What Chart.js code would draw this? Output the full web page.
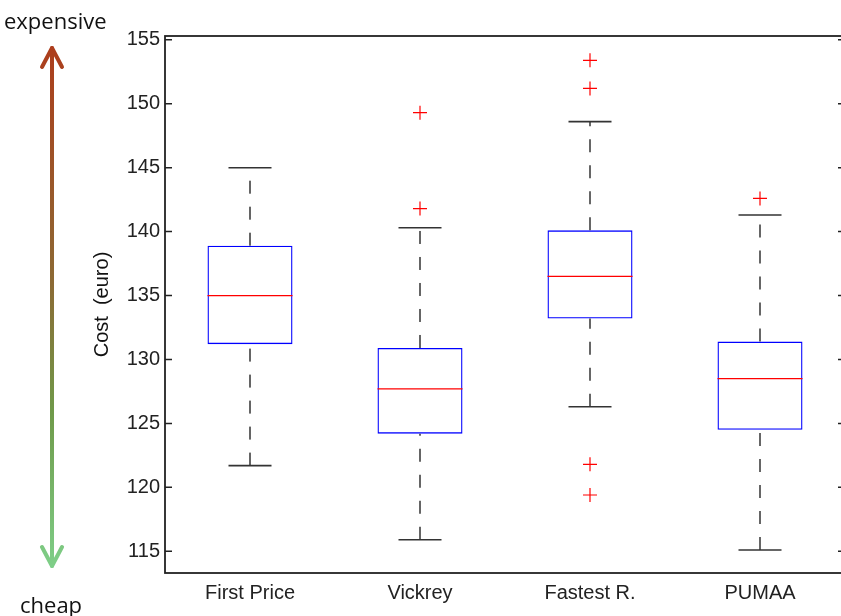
<!DOCTYPE html>
<html>
<head>
<meta charset="utf-8">
<script src="https://cdn.jsdelivr.net/npm/chart.js@4"></script>
<style>
  html, body { margin: 0; padding: 0; background: #fff; overflow: hidden; }
  #wrap { position: relative; width: 841px; height: 616px; overflow: hidden; }
  #chart { position: absolute; left: 0; top: 0; }
  .side { position: absolute; font-family: "Open Sans", "Noto Sans", sans-serif; font-size: 22px; line-height: 28px; color: #111; }
  #arrow { position: absolute; left: 30px; top: 36px; }
</style>
</head>
<body>
<div id="wrap">
  <canvas id="chart" width="846" height="616"></canvas>
  <div class="side" style="left:4px; top:6px;">expensive</div>
  <div class="side" style="left:20px; top:590px;">cheap</div>
  <svg id="arrow" width="44" height="550" viewBox="0 0 44 550">
    <defs>
      <linearGradient id="g" gradientUnits="userSpaceOnUse" x1="0" y1="10" x2="0" y2="535">
        <stop offset="0" stop-color="#ad3d1c"/>
        <stop offset="0.45" stop-color="#8c6a34"/>
        <stop offset="0.7" stop-color="#6f9a4a"/>
        <stop offset="1" stop-color="#7fd08a"/>
      </linearGradient>
    </defs>
    <g stroke="url(#g)" stroke-width="4" fill="none" stroke-linecap="round" stroke-linejoin="round">
      <line x1="22" y1="12" x2="22" y2="530"/>
      <polyline points="12,31 22,12 32,31"/>
      <polyline points="12,511 22,530 32,511"/>
    </g>
  </svg>
</div>
<script>
// Box plot values
const categories = ['First Price', 'Vickrey', 'Fastest R.', 'PUMAA'];
const whiskerLow = [121.7, 115.9, 126.3, 115.1];
const q1 = [131.2, 124.2, 133.2, 124.5];
const medians = [135.0, 127.7, 136.5, 128.5];
const q3 = [138.9, 130.9, 140.1, 131.4];
const whiskerHigh = [145.0, 140.3, 148.6, 141.3];
const outlierCats = ['Vickrey', 'Vickrey', 'Fastest R.', 'Fastest R.', 'Fastest R.', 'Fastest R.', 'PUMAA'];
const outlierValues = [149.3, 141.8, 153.4, 151.2, 121.8, 119.4, 142.6];
const yTicks = [115, 120, 125, 130, 135, 140, 145, 150, 155];

const axisFont = { family: 'Liberation Sans, Arial, sans-serif', size: 20 };

// Frame around the plot and inward tick marks (MATLAB style)
const framePlugin = {
  id: 'frame',
  afterDatasetsDraw(chart) {
    const ctx = chart.ctx;
    const a = chart.chartArea;
    const y = chart.scales.y;
    ctx.save();
    ctx.strokeStyle = '#222';
    ctx.lineWidth = 1.8;
    ctx.strokeRect(a.left, a.top, a.right - a.left, a.bottom - a.top);
    ctx.lineWidth = 1.5;
    yTicks.forEach(function(v) {
      const py = y.getPixelForValue(v);
      ctx.beginPath();
      ctx.moveTo(a.left, py);
      ctx.lineTo(a.left + 7, py);
      ctx.moveTo(a.right, py);
      ctx.lineTo(a.right - 7, py);
      ctx.stroke();
    });
    ctx.restore();
  }
};

document.addEventListener('DOMContentLoaded', function() {
  const datasets = [];

  // boxes from q1 to q3
  datasets.push({
    type: 'bar',
    data: categories.map(function(c, i) { return [q1[i], q3[i]]; }),
    backgroundColor: 'rgba(255,255,255,0)',
    borderColor: '#0000ff',
    borderWidth: 1.3,
    borderSkipped: false,
    barPercentage: 0.5,
    categoryPercentage: 1,
    order: 4
  });

  // dashed whiskers
  categories.forEach(function(c, i) {
    [[q3[i], whiskerHigh[i]], [whiskerLow[i], q1[i]]].forEach(function(seg) {
      datasets.push({
        type: 'line',
        data: [{ x: c, y: seg[0] }, { x: c, y: seg[1] }],
        borderColor: '#333',
        borderWidth: 1.5,
        borderDash: [13, 13],
        pointRadius: 0,
        order: 3
      });
    });
  });

  // whisker caps
  datasets.push({
    type: 'line',
    data: categories.map(function(c, i) { return { x: c, y: whiskerHigh[i] }; })
      .concat(categories.map(function(c, i) { return { x: c, y: whiskerLow[i] }; })),
    showLine: false,
    pointStyle: 'line',
    pointRadius: 21.5,
    pointHoverRadius: 21.5,
    pointBorderColor: '#333',
    pointBorderWidth: 1.6,
    order: 2
  });

  // medians
  datasets.push({
    type: 'line',
    data: categories.map(function(c, i) { return { x: c, y: medians[i] }; }),
    showLine: false,
    pointStyle: 'line',
    pointRadius: 42.5,
    pointHoverRadius: 42.5,
    pointBorderColor: '#ff0000',
    pointBorderWidth: 1.3,
    order: 1
  });

  // outliers
  datasets.push({
    type: 'line',
    data: outlierCats.map(function(c, i) { return { x: c, y: outlierValues[i] }; }),
    showLine: false,
    pointStyle: 'cross',
    pointRadius: 7,
    pointHoverRadius: 7,
    pointBorderColor: '#ff0000',
    pointBorderWidth: 1.2,
    order: 0
  });

  new Chart(document.getElementById('chart'), {
    type: 'bar',
    data: { labels: categories, datasets: datasets },
    options: {
      responsive: false,
      animation: false,
      layout: { autoPadding: false, padding: { left: 90, top: 36, right: 1, bottom: 0 } },
      plugins: { legend: { display: false }, tooltip: { enabled: false } },
      scales: {
        x: {
          grid: { display: false, drawTicks: false },
          border: { display: false },
          ticks: { color: '#222', font: axisFont, padding: 8 },
          afterFit: function(scale) {
            scale.height = 43;
            scale.paddingLeft = 0;
            scale.paddingRight = 0;
          }
        },
        y: {
          min: 113.3,
          max: 155.3,
          grid: { display: false, drawTicks: false },
          border: { display: false },
          ticks: { color: '#222', font: axisFont, padding: 5 },
          afterBuildTicks: function(scale) {
            scale.ticks = yTicks.map(function(v) { return { value: v }; });
          },
          afterFit: function(scale) {
            scale.width = 75;
            scale.paddingTop = 0;
            scale.paddingBottom = 0;
          },
          title: {
            display: true,
            text: 'Cost  (euro)',
            color: '#111',
            font: { family: 'Liberation Sans, Arial, sans-serif', size: 20 },
            padding: 0
          }
        }
      }
    },
    plugins: [framePlugin]
  });
});
</script>
</body>
</html>
